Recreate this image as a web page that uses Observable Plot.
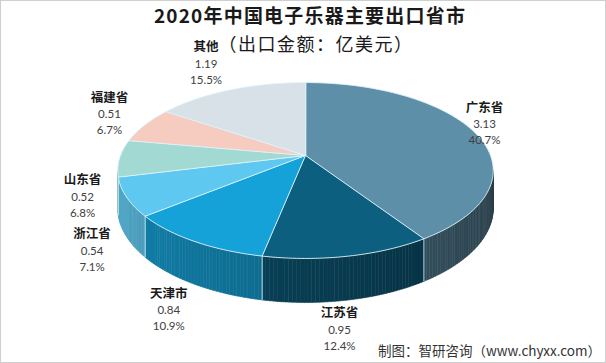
<!DOCTYPE html>
<html lang="zh-CN">
<head>
<meta charset="utf-8">
<script src="https://cdn.jsdelivr.net/npm/d3@7"></script>
<script src="https://cdn.jsdelivr.net/npm/@observablehq/plot@0.6"></script>
<style>
html,body{margin:0;padding:0;background:#fff;}
#wrap{position:relative;width:606px;height:363px;overflow:hidden;background:#fff;}
#frame{position:absolute;left:0;top:0;width:604px;height:361px;border:1px solid #cfcfcf;pointer-events:none;}
.t{position:absolute;left:0;width:620px;text-align:center;font-family:"Noto Sans CJK SC",sans-serif;color:#1a1a1a;white-space:nowrap;}
#title{top:3px;font-size:19px;font-weight:bold;line-height:24px;letter-spacing:1.2px;}
#subtitle{top:31px;left:6px;font-size:18px;font-weight:normal;line-height:24px;letter-spacing:1.5px;}
#caption{position:absolute;right:5px;top:340px;font-family:"Noto Sans CJK SC",sans-serif;font-size:13.5px;color:#333;white-space:nowrap;}
#chart{position:absolute;left:0;top:0;}
</style>
</head>
<body>
<div id="wrap">
  <div id="chart"></div>
  <div id="title" class="t">2020年中国电子乐器主要出口省市</div>
  <div id="subtitle" class="t">（出口金额：亿美元）</div>
  <div id="caption">制图：智研咨询（www.chyxx.com）</div>
  <div id="frame"></div>
</div>
<script>
// ---- data ----
const provinces = ["广东省", "江苏省", "天津市", "浙江省", "山东省", "福建省", "其他"];
const values = [3.13, 0.95, 0.84, 0.54, 0.52, 0.51, 1.19];
const shares = ["40.7%", "12.4%", "10.9%", "7.1%", "6.8%", "6.7%", "15.5%"];
const palette = ["#5e8fa8", "#0d5f80", "#15a2d8", "#5ec8f0", "#a2d9d3", "#f6cbc0", "#d8e1e7"];

// ---- geometry of the tilted (perspective) pie ----
const W = 606, Hh = 363;
const cx = 305, cy = 155, A = 185, B = 85.4, p = 0.1705, thick = 36.5;
const rad = d => d * Math.PI / 180;
function proj(deg, r = 1) {
  const u = r * Math.sin(rad(deg)), v = -r * Math.cos(rad(deg));
  const s = 1 / (1 - p * v);
  return {px: cx + A * u * s, py: cy + B * v * s, s, u, v};
}
const toX = px => (px - cx) / A, toY = py => (py - cy) / B;

const total = d3.sum(values);
let acc = 0;
const slices = provinces.map((name, i) => {
  const a = acc / total * 360; acc += values[i]; const b = acc / total * 360;
  return {name, value: values[i], share: shares[i], color: palette[i], a, b, mid: (a + b) / 2, i};
});

// top faces
const topPts = [];
for (const s of slices) {
  topPts.push({k: s.name, x: 0, y: 0, c: s.color});
  const n = Math.max(2, Math.ceil(s.b - s.a));
  for (let j = 0; j <= n; j++) {
    const q = proj(s.a + (s.b - s.a) * j / n);
    topPts.push({k: s.name, x: toX(q.px), y: toY(q.py), c: s.color});
  }
}

// side walls (front visible part)
const thL = Math.acos(-p) * 180 / Math.PI;
const thR = 360 - thL;
const shade = (col, th) => {
  const f = 0.42 + (th - 100) / 160 * 0.43;
  const c = d3.rgb(col);
  return d3.rgb(c.r * f, c.g * f, c.b * f).formatHex();
};
const sidePts = [];
let qid = 0;
for (const s of slices) {
  const lo = Math.max(s.a, thL), hi = Math.min(s.b, thR);
  if (hi <= lo) continue;
  const n = Math.max(1, Math.ceil(hi - lo));
  for (let j = 0; j < n; j++) {
    const t0 = lo + (hi - lo) * j / n, t1 = lo + (hi - lo) * (j + 1) / n;
    const q0 = proj(t0), q1 = proj(t1);
    const col = shade(s.color, (t0 + t1) / 2);
    const key = "q" + (qid++);
    sidePts.push({k: key, c: col, x: toX(q0.px), y: toY(q0.py)});
    sidePts.push({k: key, c: col, x: toX(q1.px), y: toY(q1.py)});
    sidePts.push({k: key, c: col, x: toX(q1.px), y: toY(q1.py + thick * q1.s)});
    sidePts.push({k: key, c: col, x: toX(q0.px), y: toY(q0.py + thick * q0.s)});
  }
}
const sideEdges = slices.map(s => s.a).filter(t => t > thL && t < thR).map(t => {
  const q = proj(t);
  return {x1: toX(q.px), y1: toY(q.py), x2: toX(q.px), y2: toY(q.py + thick * q.s)};
});

// labels: outside the rim (below the wall for front slices)
const labels = slices.map(s => {
  const q = proj(s.mid);
  let px = q.px, py = q.py;
  if (q.v > 0) py += thick * q.s;
  px += 24 * q.u - 13;
  py += 30 * q.v;
  return {x: toX(px), y: toY(py), name: s.name, val: d3.format(".2f")(s.value), share: s.share};
});

const chart = Plot.plot({
  width: W, height: Hh,
  margin: 0,
  x: {domain: [toX(0), toX(W)], range: [0, W], axis: null},
  y: {domain: [toY(0), toY(Hh)], range: [0, Hh], axis: null},
  color: {type: "identity"},
  style: {background: "transparent"},
  marks: [
    Plot.line(sidePts, {x: "x", y: "y", z: "k", fill: "c", stroke: "c", strokeWidth: 0.6, curve: "linear-closed"}),
    Plot.link(sideEdges, {x1: "x1", y1: "y1", x2: "x2", y2: "y2", stroke: "#cdeaf4", strokeWidth: 0.9}),
    Plot.line(topPts, {x: "x", y: "y", z: "k", fill: "c", stroke: "#def3fa", strokeWidth: 0.9, curve: "linear-closed"}),
    Plot.text(labels, {x: "x", y: "y", text: "name", dy: -16, fontSize: 12.5, fontWeight: "bold", fill: "#1a1a1a", fontFamily: "Noto Sans CJK SC"}),
    Plot.text(labels, {x: "x", y: "y", text: "val", dy: 1, fontSize: 11.5, fill: "#404040", fontFamily: "Lato"}),
    Plot.text(labels, {x: "x", y: "y", text: "share", dy: 17, fontSize: 11.5, fill: "#404040", fontFamily: "Lato"})
  ]
});
document.getElementById("chart").appendChild(chart);
</script>
</body>
</html>
